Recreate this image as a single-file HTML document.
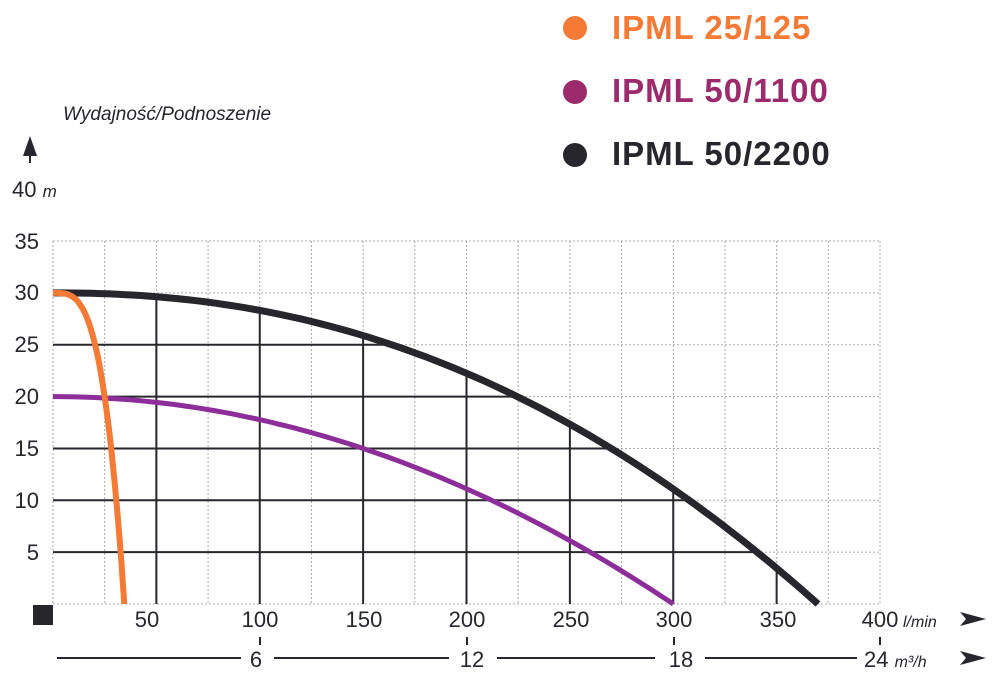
<!DOCTYPE html>
<html><head><meta charset="utf-8"><style>
body{margin:0;background:#fff;width:1000px;height:680px;overflow:hidden}
svg{font-family:"Liberation Sans",sans-serif}
</style></head><body>
<svg id="s" width="1000" height="680" xmlns="http://www.w3.org/2000/svg">
<defs><clipPath id="cb"><path id="cbp" d=""/></clipPath></defs>
<g id="grid"></g>
<g id="curves"></g>
<circle cx="575" cy="28" r="12" fill="#f47a35"/>
<text x="612" y="39" font-size="33" font-weight="bold" fill="#f47a35" letter-spacing="1">IPML 25/125</text>
<circle cx="575" cy="92" r="12" fill="#9c2a6c"/>
<text x="612" y="102" font-size="33" font-weight="bold" fill="#9c2a6c" letter-spacing="1">IPML 50/1100</text>
<circle cx="575" cy="155" r="12" fill="#26262c"/>
<text x="612" y="165" font-size="33" font-weight="bold" fill="#26262c" letter-spacing="1">IPML 50/2200</text>
<text x="63" y="120" font-size="19" font-style="italic" fill="#26262c">Wydajność/Podnoszenie</text>
<polygon points="30,136 23,156 37,156" fill="#26262c"/><rect x="29" y="150" width="2" height="13" fill="#26262c"/>
<text x="12" y="197" font-size="22" fill="#26262c">40 <tspan font-style="italic" font-size="17">m</tspan></text>
<g font-size="22" fill="#26262c" text-anchor="end">
<text x="39" y="249">35</text><text x="39" y="300">30</text><text x="39" y="352">25</text>
<text x="39" y="404">20</text><text x="39" y="456">15</text><text x="39" y="508">10</text><text x="39" y="560">5</text>
</g>
<rect x="33" y="605" width="20" height="20" fill="#26262c"/>
<g font-size="22" fill="#26262c" text-anchor="middle">
<text x="147" y="627">50</text><text x="260" y="627">100</text><text x="364" y="627">150</text>
<text x="467" y="627">200</text><text x="571" y="627">250</text><text x="674" y="627">300</text>
<text x="778" y="627">350</text><text x="880" y="627">400</text>
<text x="256" y="667">6</text><text x="472" y="667">12</text><text x="681" y="667">18</text>
</g>
<text x="864" y="667" font-size="22" fill="#26262c">24 <tspan font-style="italic" font-size="16">m³/h</tspan></text>
<text x="903" y="627" font-size="16" font-style="italic" fill="#26262c">l/min</text>
<g stroke="#26262c" stroke-width="2">
<line x1="260" y1="637" x2="260" y2="645"/><line x1="467" y1="637" x2="467" y2="645"/>
<line x1="674" y1="637" x2="674" y2="645"/><line x1="880" y1="637" x2="880" y2="645"/>
<line x1="57" y1="658" x2="241" y2="658"/><line x1="274" y1="658" x2="449" y2="658"/>
<line x1="497" y1="658" x2="655" y2="658"/><line x1="705" y1="658" x2="857" y2="658"/>
</g>
<polygon points="960,612 986,619 960,626 966,619" fill="#26262c"/>
<polygon points="960,651 986,658 960,665 966,658" fill="#26262c"/>
</svg>
<script>
var X=function(q){return 53+q*2.0675},Y=function(h){return 604-h*10.37};
function pts(f,a,b,n){var s="";for(var i=0;i<=n;i++){var q=a+(b-a)*i/n;s+=(i?"L":"M")+X(q).toFixed(1)+","+Y(f(q)).toFixed(1);}return s;}
var fb=function(q){return 30*(1-Math.pow(q/370,2.2))};
var fp=function(q){return 20*(1-Math.pow(q/300,2))};
var fo=function(q){return 30*(1-Math.pow(q/34.5,3.4))};
document.getElementById("cbp").setAttribute("d",pts(fb,0,370,80)+"L"+X(370)+",604L53,604Z");
var g=document.getElementById("grid"),h="";
for(var q=0;q<=400;q+=25){h+='<line x1="'+X(q)+'" y1="241" x2="'+X(q)+'" y2="604" stroke="#aaa" stroke-width="1" stroke-dasharray="2,2"/>';}
for(var m=0;m<=35;m+=5){h+='<line x1="53" y1="'+Y(m)+'" x2="880" y2="'+Y(m)+'" stroke="#aaa" stroke-width="1" stroke-dasharray="2,2"/>';}
h+='<g clip-path="url(#cb)">';
for(var q=50;q<=350;q+=50){h+='<line x1="'+X(q)+'" y1="241" x2="'+X(q)+'" y2="604" stroke="#26262c" stroke-width="2"/>';}
for(var m=5;m<=30;m+=5){h+='<line x1="53" y1="'+Y(m)+'" x2="880" y2="'+Y(m)+'" stroke="#26262c" stroke-width="2"/>';}
h+='</g>';
g.innerHTML=h;
document.getElementById("curves").innerHTML='<path d="'+pts(fp,0,300,80)+'" fill="none" stroke="#8c2d9a" stroke-width="5"/>'+
'<path d="'+pts(fb,0,370,80)+'" fill="none" stroke="#26262c" stroke-width="7"/>'+
'<path d="'+pts(fo,0,34.5,80)+'" fill="none" stroke="#f47a35" stroke-width="6"/>';
</script>
</body></html>
